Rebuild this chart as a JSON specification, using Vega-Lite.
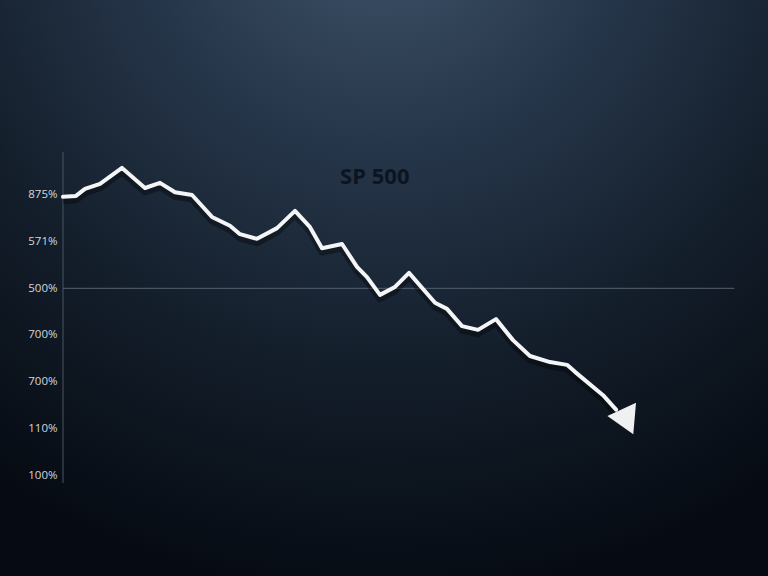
{
  "$schema": "https://vega.github.io/schema/vega-lite/v6.json",
  "width": 768,
  "height": 576,
  "padding": 0,
  "autosize": {"type": "none"},
  "background": "#0c121b",
  "config": {
    "view": {
      "stroke": null,
      "fill": {
        "gradient": "radial",
        "x1": 0.5, "y1": 0.0, "r1": 0,
        "x2": 0.5, "y2": 0.0, "r2": 0.9,
        "stops": [
          {"offset": 0, "color": "#41556a"},
          {"offset": 0.35, "color": "#26364a"},
          {"offset": 0.7, "color": "#121c28"},
          {"offset": 1, "color": "#060b13"}
        ]
      }
    }
  },
  "datasets": {
    "series": [
      {"t": 0, "v": 5.96}, {"t": 1.93, "v": 5.98}, {"t": 3.27, "v": 6.13}, {"t": 5.51, "v": 6.24},
      {"t": 8.78, "v": 6.58}, {"t": 12.2, "v": 6.15}, {"t": 14.43, "v": 6.26}, {"t": 16.67, "v": 6.06},
      {"t": 19.2, "v": 6.0}, {"t": 22.17, "v": 5.53}, {"t": 24.85, "v": 5.34}, {"t": 26.34, "v": 5.16},
      {"t": 28.87, "v": 5.06}, {"t": 31.85, "v": 5.29}, {"t": 34.52, "v": 5.66}, {"t": 36.76, "v": 5.31},
      {"t": 38.54, "v": 4.86}, {"t": 41.52, "v": 4.95}, {"t": 43.75, "v": 4.46}, {"t": 45.24, "v": 4.24},
      {"t": 47.17, "v": 3.86}, {"t": 49.4, "v": 4.03}, {"t": 51.49, "v": 4.33}, {"t": 55.36, "v": 3.69},
      {"t": 57.14, "v": 3.56}, {"t": 59.38, "v": 3.19}, {"t": 61.76, "v": 3.11}, {"t": 64.43, "v": 3.34},
      {"t": 66.96, "v": 2.89}, {"t": 69.49, "v": 2.55}, {"t": 72.47, "v": 2.42}, {"t": 75.0, "v": 2.36},
      {"t": 76.19, "v": 2.21}, {"t": 80.36, "v": 1.71}, {"t": 82.3, "v": 1.4}
    ]
  },
  "layer": [
    {
      "data": {"values": [{"t": 0, "v1": -0.17, "v2": 6.92}]},
      "mark": {"type": "rule", "stroke": "#4a5561", "strokeWidth": 1},
      "encoding": {
        "x": {"field": "t", "type": "quantitative", "scale": {"domain": [-9.375, 104.91], "nice": false, "zero": false}, "axis": null},
        "y": {"field": "v1", "type": "quantitative", "scale": {"domain": [-2.164, 10.178], "nice": false, "zero": false},
          "axis": {
            "values": [0, 1, 2, 3, 4, 5, 6],
            "labelExpr": "['100%','110%','700%','700%','500%','571%','875%'][datum.value]",
            "offset": -63,
            "domain": false, "ticks": false, "grid": false,
            "labelColor": "#d4d7db", "labelFont": "Open Sans", "labelFontSize": 11.5,
            "labelPadding": 6, "title": null
          }},
        "y2": {"field": "v2"}
      }
    },
    {
      "data": {"values": [{"t": 0, "t2": 99.9, "v": 4}]},
      "mark": {"type": "rule", "stroke": "#56616d", "strokeWidth": 1},
      "encoding": {
        "x": {"field": "t", "type": "quantitative"},
        "x2": {"field": "t2"},
        "y": {"field": "v", "type": "quantitative"}
      }
    },
    {
      "data": {"values": [{"t": 46.4, "v": 6.39, "label": "SP 500"}]},
      "mark": {"type": "text", "font": "Open Sans", "fontWeight": "bold", "fontSize": 22, "color": "#0c151f", "align": "center", "baseline": "middle"},
      "encoding": {
        "x": {"field": "t", "type": "quantitative"},
        "y": {"field": "v", "type": "quantitative"},
        "text": {"field": "label"}
      }
    },
    {
      "data": {"name": "series"},
      "mark": {"type": "line", "stroke": "#000000", "opacity": 0.35, "strokeWidth": 7, "yOffset": 4, "strokeJoin": "round"},
      "encoding": {
        "x": {"field": "t", "type": "quantitative"},
        "y": {"field": "v", "type": "quantitative"}
      }
    },
    {
      "data": {"name": "series"},
      "mark": {"type": "line", "stroke": "#f4f5f6", "strokeWidth": 4, "strokeJoin": "round", "strokeCap": "round"},
      "encoding": {
        "x": {"field": "t", "type": "quantitative"},
        "y": {"field": "v", "type": "quantitative"}
      }
    },
    {
      "data": {"values": [{"t": 84.0, "v": 1.14}]},
      "mark": {"type": "point", "shape": "triangle-down", "filled": true, "fill": "#eef0f2", "opacity": 1, "size": 1000, "angle": 335},
      "encoding": {
        "x": {"field": "t", "type": "quantitative"},
        "y": {"field": "v", "type": "quantitative"}
      }
    }
  ]
}
